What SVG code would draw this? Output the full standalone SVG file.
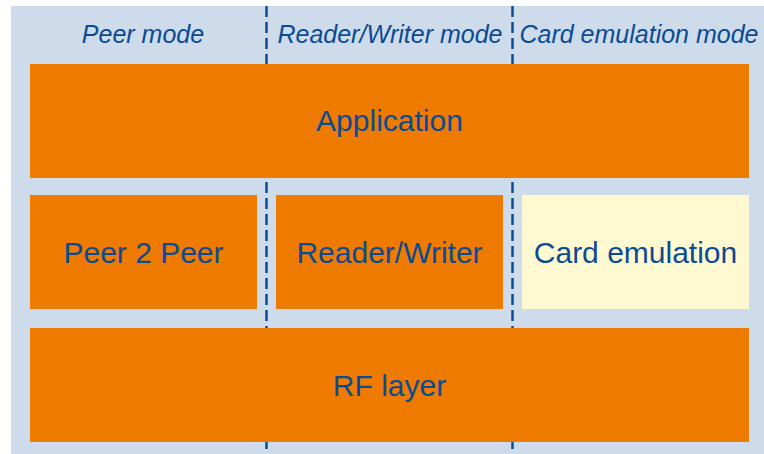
<svg xmlns="http://www.w3.org/2000/svg" width="764" height="454" viewBox="0 0 764 454">
<style>
.box{fill:#ee7a00}
.lbl{font-family:"Liberation Sans",Arial,sans-serif;font-size:30px;fill:#0b4a94;text-anchor:middle}
.hdr{font-family:"Liberation Sans",Arial,sans-serif;font-size:25px;font-style:italic;fill:#0b4a94;text-anchor:middle}
.sep{stroke:#0a4d96;stroke-width:2.5;stroke-dasharray:11 5;fill:none}
</style>
<rect x="0" y="0" width="764" height="454" fill="#ffffff"/>
<rect x="11" y="6" width="753" height="448" fill="#cddbea"/>
<g id="connectors">
<line class="sep" x1="266.5" y1="6" x2="266.5" y2="454"/>
<line class="sep" x1="512.5" y1="6" x2="512.5" y2="454"/>
</g>
<g id="headers">
<text class="hdr" x="143" y="43">Peer mode</text>
<text class="hdr" x="390" y="43">Reader/Writer mode</text>
<text class="hdr" x="639" y="43">Card emulation mode</text>
</g>
<g id="application">
<rect class="box" x="30" y="64" width="719" height="114"/>
<text class="lbl" x="389.5" y="131">Application</text>
</g>
<g id="peer2peer">
<rect class="box" x="30" y="195" width="227" height="114"/>
<text class="lbl" x="143.5" y="263">Peer 2 Peer</text>
</g>
<g id="readerwriter">
<rect class="box" x="276" y="195" width="227" height="114"/>
<text class="lbl" x="389.5" y="263">Reader/Writer</text>
</g>
<g id="cardemulation">
<rect x="522" y="195" width="227" height="114" fill="#fff9d2"/>
<text class="lbl" x="635.5" y="263">Card emulation</text>
</g>
<g id="rflayer">
<rect class="box" x="30" y="328" width="719" height="114"/>
<text class="lbl" x="389.5" y="396">RF layer</text>
</g>
</svg>
